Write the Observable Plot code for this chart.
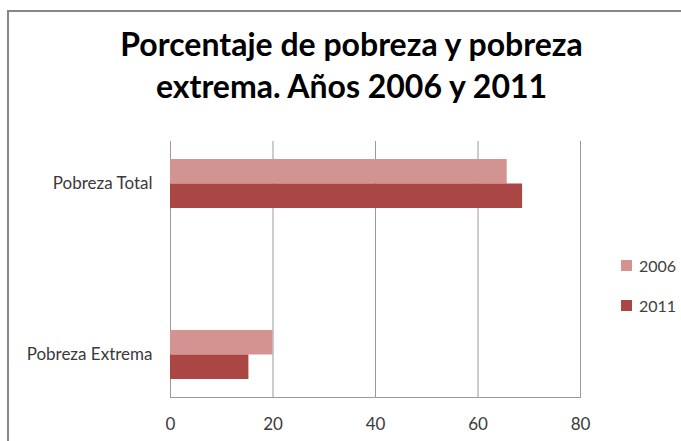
<!DOCTYPE html>
<html>
<head>
<meta charset="utf-8">
<script src="https://cdn.jsdelivr.net/npm/d3@7"></script>
<script src="https://cdn.jsdelivr.net/npm/@observablehq/plot@0.6"></script>
<style>
  html, body { margin: 0; padding: 0; background: #fff; overflow: hidden; }
  #wrap { position: relative; width: 681px; height: 441px; font-family: Lato, "Open Sans", sans-serif; }
  #border { position: absolute; left: 7px; top: 10px; width: 800px; height: 600px; border: 2px solid #878787; box-sizing: border-box; pointer-events: none; }
  #title { height: 120px; box-sizing: border-box; padding-top: 23px; padding-left: 22px; text-align: center; font-weight: bold; font-size: 32px; line-height: 42px; color: #000; }
  #legend { position: absolute; left: 621px; top: 254px; font-size: 16px; color: #404040; }
  .item { display: flex; align-items: center; height: 22px; margin-bottom: 18px; }
  .sw { width: 11px; height: 11px; margin-right: 7px; }
  svg { display: block; }
</style>
</head>
<body>
<div id="wrap">
  <div id="border"></div>
  <div id="title">Porcentaje de pobreza y pobreza<br>extrema. Años 2006 y 2011</div>
  <div id="chart"></div>
  <div id="legend"></div>
</div>
<script>
const categories = ["Pobreza Total", "Pobreza Extrema"];
const years = ["2006", "2011"];
const values2006 = [65.7, 20.0];
const values2011 = [68.7, 15.3];
const xTicks = [0, 20, 40, 60, 80];
const colors = ["#D39391", "#AA4744"];

const data2006 = categories.map((c, i) => ({category: c, value: values2006[i], year: years[0]}));
const data2011 = categories.map((c, i) => ({category: c, value: values2011[i], year: years[1]}));

const half = 24.5;

const chart = Plot.plot({
  width: 681,
  height: 321,
  marginTop: 21,
  marginBottom: 44,
  marginLeft: 170,
  marginRight: 101,
  style: {fontFamily: "Lato, 'Open Sans', sans-serif", fontSize: "17px", color: "#3a3a3a", background: "#fff"},
  x: {domain: [0, 80], ticks: xTicks, tickSize: 0, tickPadding: 20, label: null},
  y: {domain: categories, paddingInner: 0.715, paddingOuter: 0.103, align: 0.5, tickSize: 0, tickPadding: 18, label: null},
  color: {domain: years, range: colors},
  marks: [
    Plot.ruleX(xTicks, {stroke: "#9a9a9a", strokeWidth: 1}),
    Plot.frame({anchor: "bottom", stroke: "#9a9a9a"}),
    Plot.barX(data2006, {x: "value", y: "category", fill: "year", insetBottom: half}),
    Plot.barX(data2011, {x: "value", y: "category", fill: "year", insetTop: half})
  ]
});
document.getElementById("chart").appendChild(chart);

const legend = document.getElementById("legend");
years.forEach((y, i) => {
  const item = document.createElement("div");
  item.className = "item";
  const sw = document.createElement("div");
  sw.className = "sw";
  sw.style.background = colors[i];
  const t = document.createElement("span");
  t.textContent = y;
  item.appendChild(sw);
  item.appendChild(t);
  legend.appendChild(item);
});
</script>
</body>
</html>
